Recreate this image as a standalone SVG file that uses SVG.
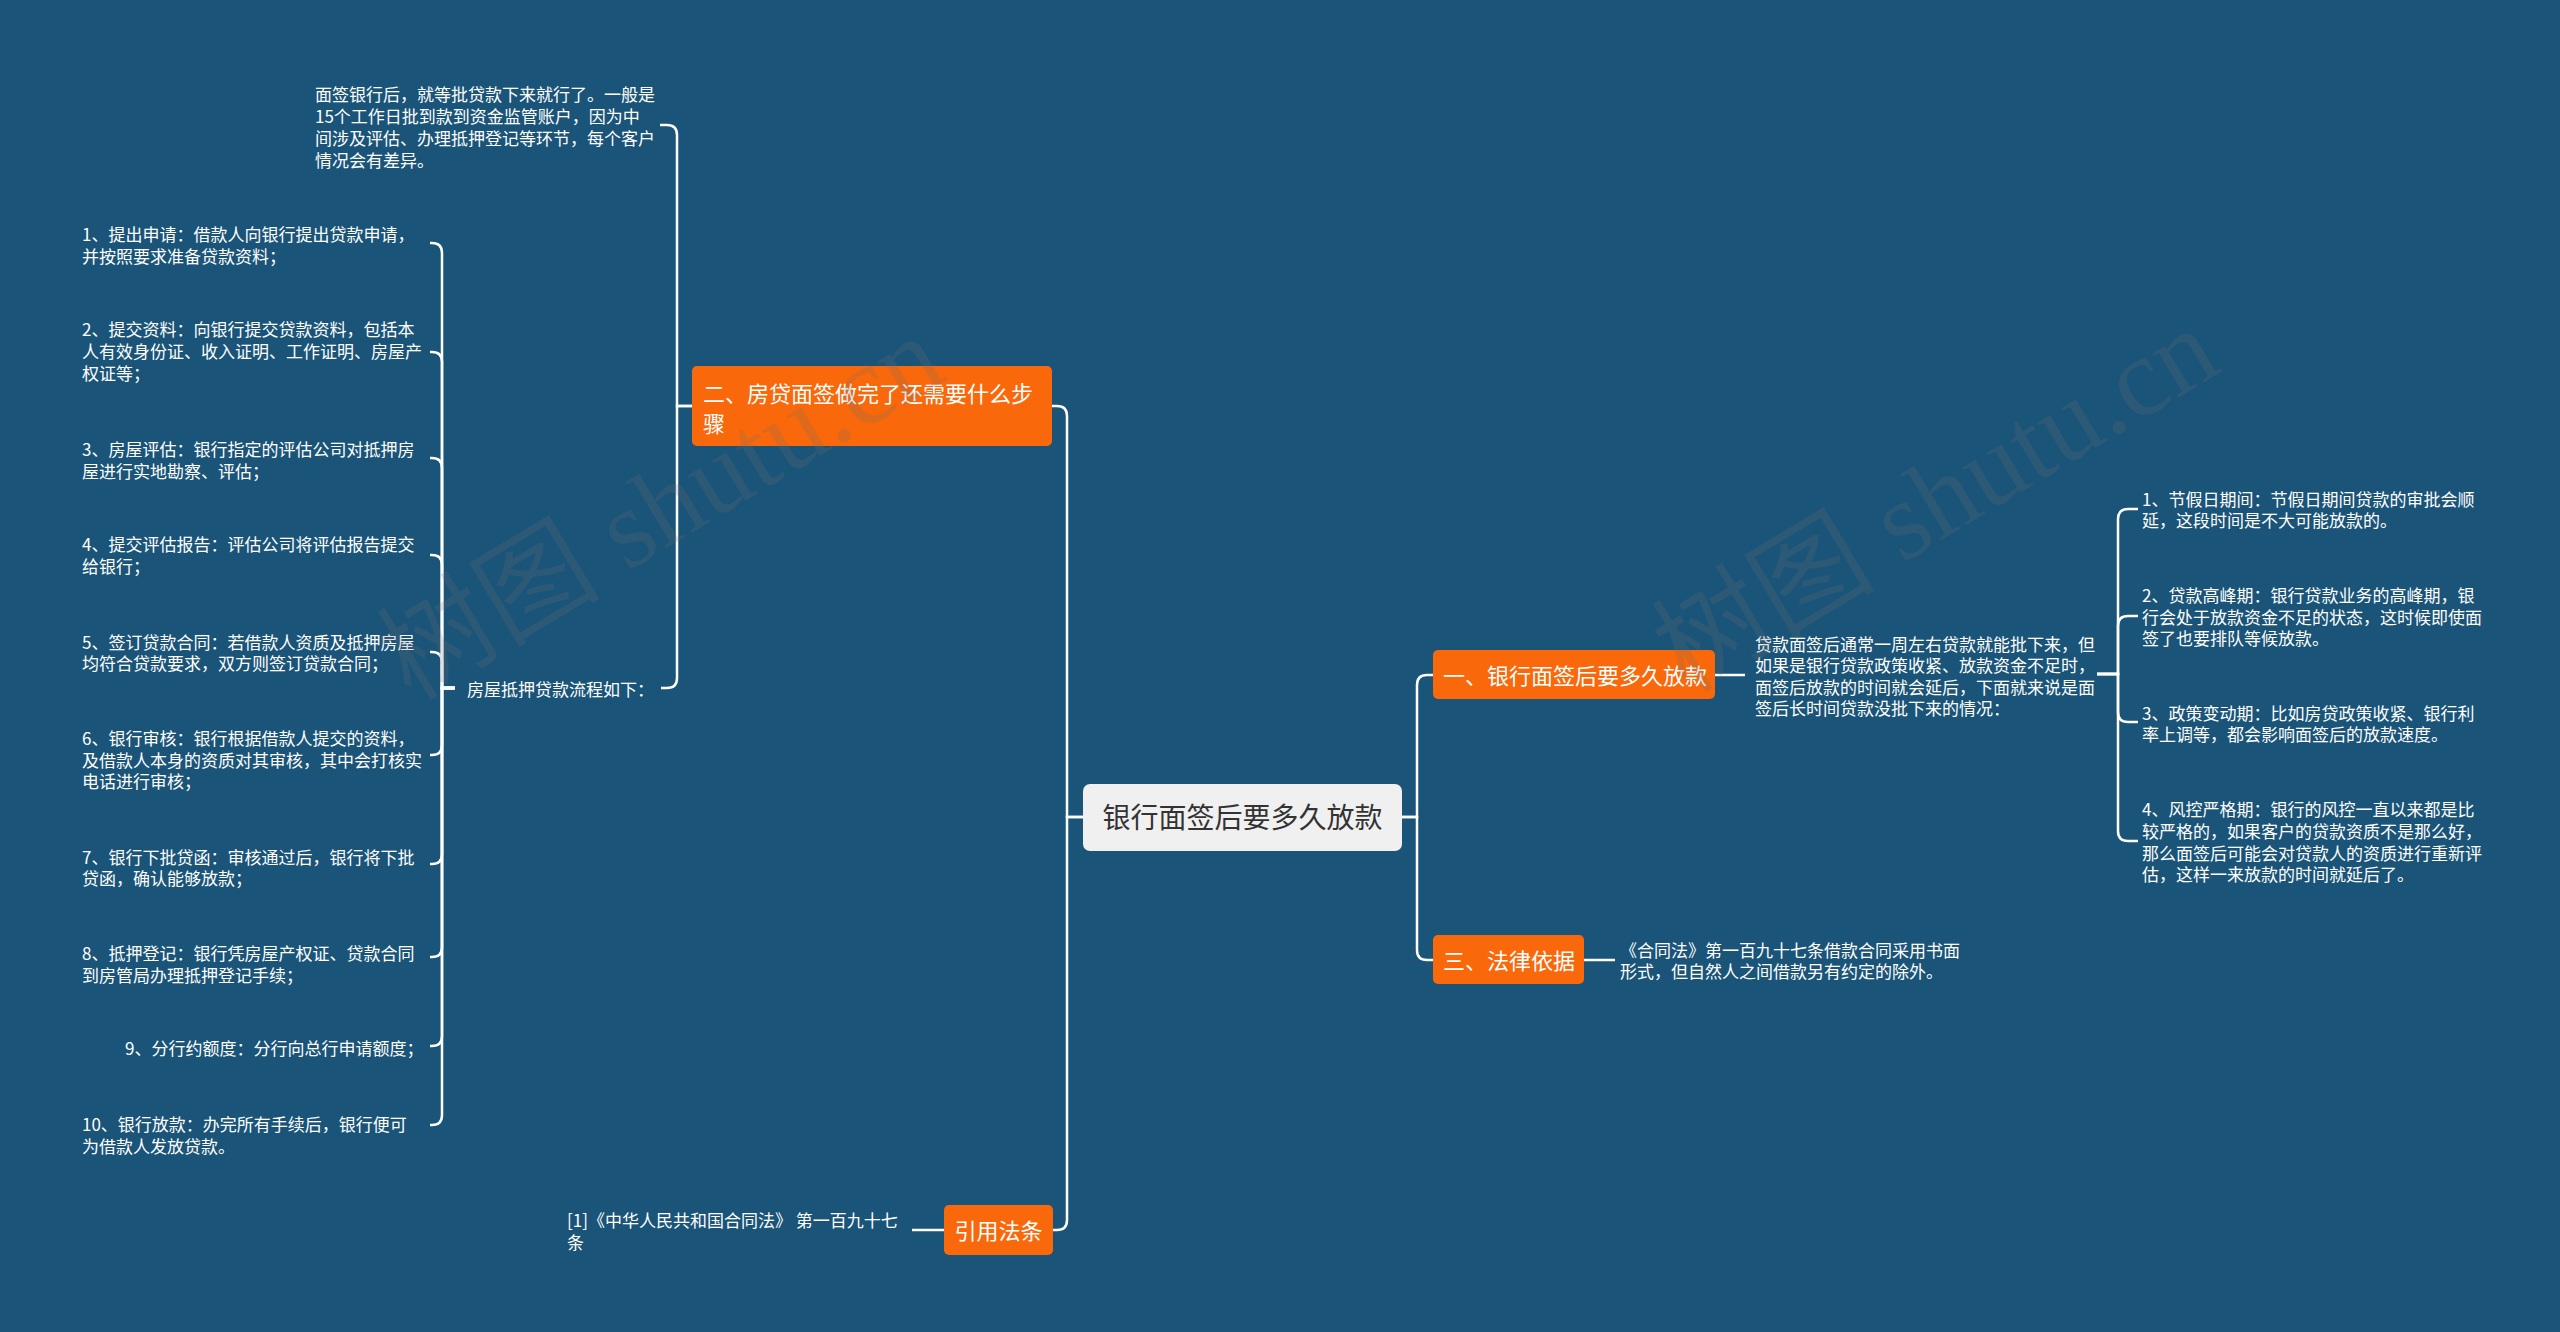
<svg xmlns="http://www.w3.org/2000/svg" width="2560" height="1332" viewBox="0 0 2560 1332">
<style>
.t{font-family:"Noto Sans CJK SC","Noto Sans",sans-serif;font-size:17px;fill:#ffffff}
.b{font-family:"Noto Sans CJK SC","Noto Sans",sans-serif;font-size:22px;fill:#ffffff}
.c{font-family:"Noto Sans CJK SC","Noto Sans",sans-serif;font-size:28px;fill:#333333}
.o{fill:#f9680a}
.ln{fill:none;stroke:#ffffff;stroke-width:2.5}
.wm{font-family:"Liberation Serif","Noto Sans CJK SC",serif;font-size:112px;fill:#6f6f6f;opacity:0.2}
</style>
<rect x="0" y="0" width="2560" height="1332" fill="#1a5478"/>
<g id="connectors">
<path class="ln" d="M1083,817 H1067 V416 Q1067,406 1057,406 H1052"/>
<path class="ln" d="M1083,817 H1067 V1220 Q1067,1230 1057,1230 H1053"/>
<path class="ln" d="M1402,817 H1417 V685 Q1417,675 1427,675 H1433"/>
<path class="ln" d="M1402,817 H1417 V950 Q1417,960 1427,960 H1433"/>
<path class="ln" d="M692,406 H677 V135 Q677,125 667,125 H660"/>
<path class="ln" d="M692,406 H677 V678 Q677,688 667,688 H661"/>
<path class="ln" d="M455,688 H442 V253 Q442,243 432,243 H430"/>
<path class="ln" d="M455,688 H442 V362 Q442,352 432,352 H430"/>
<path class="ln" d="M455,688 H442 V468 Q442,458 432,458 H430"/>
<path class="ln" d="M455,688 H442 V565 Q442,555 432,555 H430"/>
<path class="ln" d="M455,688 H442 V662 Q442,652 432,652 H430"/>
<path class="ln" d="M455,688 H442 V745 Q442,755 432,755 H430"/>
<path class="ln" d="M455,688 H442 V854 Q442,864 432,864 H430"/>
<path class="ln" d="M455,688 H442 V947 Q442,957 432,957 H430"/>
<path class="ln" d="M455,688 H442 V1036 Q442,1046 432,1046 H430"/>
<path class="ln" d="M455,688 H442 V1115 Q442,1125 432,1125 H430"/>
<path class="ln" d="M1715,675 H1745"/>
<path class="ln" d="M2097,674 H2118 V519 Q2118,509 2128,509 H2138"/>
<path class="ln" d="M2097,674 H2118 V626 Q2118,616 2128,616 H2138"/>
<path class="ln" d="M2097,674 H2118 V712 Q2118,722 2128,722 H2138"/>
<path class="ln" d="M2097,674 H2118 V831 Q2118,841 2128,841 H2138"/>
<path class="ln" d="M1584,960 H1615"/>
<path class="ln" d="M944,1230 H912"/>
</g>
<g id="root">
<rect x="1083" y="784" width="319" height="67" rx="7" fill="#f0f0f0"/>
<text class="c" x="1242.5" y="828" text-anchor="middle">银行面签后要多久放款</text>
</g>
<g id="n1">
<rect class="o" x="1433" y="650" width="282" height="49" rx="5"/>
<text class="b" x="1443" y="684">一、银行面签后要多久放款</text>
</g>
<g id="n2">
<rect class="o" x="692" y="366" width="360" height="80" rx="5"/>
<text class="b" x="703" y="402">二、房贷面签做完了还需要什么步</text>
<text class="b" x="703" y="432">骤</text>
</g>
<g id="n3">
<rect class="o" x="1433" y="935" width="151" height="49" rx="5"/>
<text class="b" x="1443" y="969">三、法律依据</text>
</g>
<g id="n4">
<rect class="o" x="944" y="1205" width="109" height="50" rx="5"/>
<text class="b" x="998.5" y="1239" text-anchor="middle">引用法条</text>
</g>
<g id="n1-text">
<text class="t" x="1755" y="650.5">贷款面签后通常一周左右贷款就能批下来，但</text>
<text class="t" x="1755" y="672">如果是银行贷款政策收紧、放款资金不足时，</text>
<text class="t" x="1755" y="693.5">面签后放款的时间就会延后，下面就来说是面</text>
<text class="t" x="1755" y="715">签后长时间贷款没批下来的情况：</text>
</g>
<g id="n1-c1">
<text class="t" x="2142" y="505.5">1、节假日期间：节假日期间贷款的审批会顺</text>
<text class="t" x="2142" y="526.5">延，这段时间是不大可能放款的。</text>
</g>
<g id="n1-c2">
<text class="t" x="2142" y="601.5">2、贷款高峰期：银行贷款业务的高峰期，银</text>
<text class="t" x="2142" y="623.5">行会处于放款资金不足的状态，这时候即使面</text>
<text class="t" x="2142" y="644.5">签了也要排队等候放款。</text>
</g>
<g id="n1-c3">
<text class="t" x="2142" y="719.5">3、政策变动期：比如房贷政策收紧、银行利</text>
<text class="t" x="2142" y="740.5">率上调等，都会影响面签后的放款速度。</text>
</g>
<g id="n1-c4">
<text class="t" x="2142" y="815.5">4、风控严格期：银行的风控一直以来都是比</text>
<text class="t" x="2142" y="837.5">较严格的，如果客户的贷款资质不是那么好，</text>
<text class="t" x="2142" y="859.5">那么面签后可能会对贷款人的资质进行重新评</text>
<text class="t" x="2142" y="880.5">估，这样一来放款的时间就延后了。</text>
</g>
<g id="n3-text">
<text class="t" x="1620" y="956.5">《合同法》第一百九十七条借款合同采用书面</text>
<text class="t" x="1620" y="977.5">形式，但自然人之间借款另有约定的除外。</text>
</g>
<g id="n4-text">
<text class="t" x="567" y="1226.5">[1]《中华人民共和国合同法》 第一百九十七</text>
<text class="t" x="567" y="1248.5">条</text>
</g>
<g id="n2-c1">
<text class="t" x="315" y="100.5">面签银行后，就等批贷款下来就行了。一般是</text>
<text class="t" x="315" y="122.5">15个工作日批到款到资金监管账户，因为中</text>
<text class="t" x="315" y="144.5">间涉及评估、办理抵押登记等环节，每个客户</text>
<text class="t" x="315" y="166.5">情况会有差异。</text>
</g>
<g id="n2-c2">
<text class="t" x="467" y="695.5">房屋抵押贷款流程如下：</text>
</g>
<g id="s1">
<text class="t" x="82" y="240.5">1、提出申请：借款人向银行提出贷款申请，</text>
<text class="t" x="82" y="262.5">并按照要求准备贷款资料；</text>
</g>
<g id="s2">
<text class="t" x="82" y="335.5">2、提交资料：向银行提交贷款资料，包括本</text>
<text class="t" x="82" y="357.5">人有效身份证、收入证明、工作证明、房屋产</text>
<text class="t" x="82" y="379.5">权证等；</text>
</g>
<g id="s3">
<text class="t" x="82" y="455.5">3、房屋评估：银行指定的评估公司对抵押房</text>
<text class="t" x="82" y="477.5">屋进行实地勘察、评估；</text>
</g>
<g id="s4">
<text class="t" x="82" y="550.5">4、提交评估报告：评估公司将评估报告提交</text>
<text class="t" x="82" y="572.5">给银行；</text>
</g>
<g id="s5">
<text class="t" x="82" y="648.5">5、签订贷款合同：若借款人资质及抵押房屋</text>
<text class="t" x="82" y="669.5">均符合贷款要求，双方则签订贷款合同；</text>
</g>
<g id="s6">
<text class="t" x="82" y="744.5">6、银行审核：银行根据借款人提交的资料，</text>
<text class="t" x="82" y="766.5">及借款人本身的资质对其审核，其中会打核实</text>
<text class="t" x="82" y="787.5">电话进行审核；</text>
</g>
<g id="s7">
<text class="t" x="82" y="863.5">7、银行下批贷函：审核通过后，银行将下批</text>
<text class="t" x="82" y="884.5">贷函，确认能够放款；</text>
</g>
<g id="s8">
<text class="t" x="82" y="959.5">8、抵押登记：银行凭房屋产权证、贷款合同</text>
<text class="t" x="82" y="981.5">到房管局办理抵押登记手续；</text>
</g>
<g id="s9">
<text class="t" x="125" y="1054.5">9、分行约额度：分行向总行申请额度；</text>
</g>
<g id="s10">
<text class="t" x="82" y="1130.5">10、银行放款：办完所有手续后，银行便可</text>
<text class="t" x="82" y="1152.5">为借款人发放贷款。</text>
</g>
<g id="watermarks">
<text class="wm" x="680" y="540" text-anchor="middle" transform="rotate(-31 680 540)">树图 shutu.cn</text>
<text class="wm" x="1955" y="532" text-anchor="middle" transform="rotate(-31 1955 532)">树图 shutu.cn</text>
</g>
</svg>
